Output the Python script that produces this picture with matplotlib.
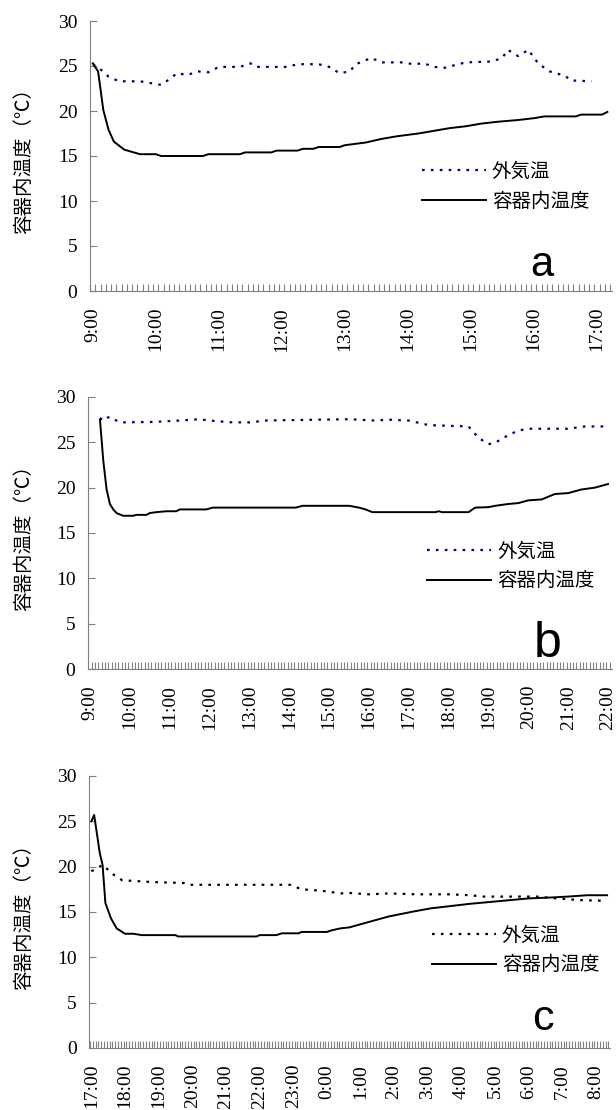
import matplotlib
matplotlib.use('Agg')
import matplotlib.pyplot as plt
import numpy as np

# ---- a: 9:00 - 17:10 ----
a_labels = ["9:00", "10:00", "11:00", "12:00", "13:00", "14:00", "15:00", "16:00", "17:00"]
a_in_t = ["9:00", "9:05", "9:10", "9:15", "9:20", "9:30", "9:45", "10:00", "10:05", "10:45",
          "10:50", "11:20", "11:25", "11:50", "11:55", "12:15", "12:20", "12:30", "12:35", "12:55",
          "13:00", "13:20", "13:35", "13:50", "14:10", "14:25", "14:40", "14:55", "15:10", "15:25",
          "15:45", "16:00", "16:10", "16:40", "16:45", "17:05", "17:10"]
a_in_v = [25.3, 24.4, 20.1, 17.9, 16.6, 15.7, 15.2, 15.2, 15.0, 15.0,
          15.2, 15.2, 15.4, 15.4, 15.6, 15.6, 15.8, 15.8, 16.0, 16.0,
          16.2, 16.5, 16.9, 17.2, 17.5, 17.8, 18.1, 18.3, 18.6, 18.8,
          19.0, 19.2, 19.4, 19.4, 19.6, 19.6, 19.9]
a_out_t = ["9:00", "9:10", "9:15", "9:25", "9:45", "9:55", "10:05", "10:15", "10:20", "10:30",
           "10:40", "10:50", "11:00", "11:20", "11:30", "11:35", "12:05", "12:15", "12:35", "12:45",
           "12:55", "13:05", "13:10", "13:15", "13:25", "13:35", "13:55", "14:05", "14:15", "14:25",
           "14:35", "14:45", "14:55", "15:20", "15:30", "15:35", "15:45", "15:55", "16:00", "16:05",
           "16:15", "16:30", "16:35", "16:55"]
a_out_v = [25.2, 24.4, 23.8, 23.3, 23.3, 23.1, 22.9, 23.7, 24.2, 24.0,
           24.4, 24.3, 24.9, 24.9, 25.3, 24.9, 24.9, 25.2, 25.2, 24.9,
           24.2, 24.4, 25.2, 25.4, 25.9, 25.4, 25.4, 25.2, 25.3, 24.9,
           24.8, 25.1, 25.4, 25.5, 25.9, 26.8, 26.1, 26.8, 25.9, 25.2,
           24.4, 23.9, 23.4, 23.3]

# ---- b: 9:00 - 22:00 ----
b_labels = ["9:00", "10:00", "11:00", "12:00", "13:00", "14:00", "15:00", "16:00",
            "17:00", "18:00", "19:00", "20:00", "21:00", "22:00"]
b_in_t = ["9:15", "9:20", "9:25", "9:30", "9:35", "9:40", "9:50", "10:05", "10:10", "10:25",
          "10:30", "10:40", "10:55", "11:10", "11:15", "11:55", "12:05", "14:10", "14:20", "15:30",
          "15:45", "15:55", "16:05", "17:40", "17:45", "17:50", "18:30", "18:40", "19:00", "19:10",
          "19:30", "19:45", "20:00", "20:20", "20:40", "21:00", "21:20", "21:40", "22:00"]
b_in_v = [27.5, 23.0, 19.8, 18.2, 17.6, 17.2, 16.9, 16.9, 17.0, 17.0,
          17.2, 17.3, 17.4, 17.4, 17.6, 17.6, 17.8, 17.8, 18.0, 18.0,
          17.8, 17.6, 17.3, 17.3, 17.4, 17.3, 17.3, 17.8, 17.85, 18.0,
          18.2, 18.3, 18.6, 18.7, 19.3, 19.4, 19.8, 20.0, 20.4]
b_out_t = ["9:15", "9:20", "9:25", "9:30", "9:45", "10:35", "11:15", "11:45", "12:00", "12:35",
           "13:05", "13:20", "15:30", "16:10", "16:30", "17:00", "17:30", "18:30", "18:45", "19:00",
           "19:10", "19:30", "19:45", "20:00", "21:00", "21:25", "22:00"]
b_out_v = [27.7, 27.4, 27.7, 27.8, 27.2, 27.25, 27.4, 27.55, 27.4, 27.2,
           27.2, 27.4, 27.55, 27.4, 27.5, 27.4, 26.9, 26.75, 25.5, 24.8,
           24.95, 25.8, 26.3, 26.5, 26.5, 26.75, 26.75]

# ---- c: 17:00 - 8:20 (overnight) ----
c_labels = ["17:00", "18:00", "19:00", "20:00", "21:00", "22:00", "23:00", "0:00",
            "1:00", "2:00", "3:00", "4:00", "5:00", "6:00", "7:00", "8:00"]
c_in_t = ["17:00", "17:05", "17:15", "17:20", "17:25", "17:35", "17:45", "18:00", "18:15", "18:30",
          "19:30", "19:35", "21:55", "22:00", "22:30", "22:40", "23:10", "23:15", "0:00", "0:10",
          "0:25", "0:40", "1:15", "1:50", "2:30", "3:05", "3:40", "4:15", "4:50", "5:25",
          "6:00", "6:40", "7:10", "7:45", "8:20"]
c_in_v = [25.0, 25.7, 21.5, 20.2, 16.0, 14.3, 13.2, 12.6, 12.6, 12.45,
          12.45, 12.3, 12.3, 12.45, 12.45, 12.65, 12.65, 12.8, 12.8, 13.0,
          13.2, 13.3, 13.9, 14.5, 15.0, 15.4, 15.65, 15.9, 16.1, 16.3,
          16.5, 16.6, 16.7, 16.85, 16.85]
c_out_t = ["17:00", "17:10", "17:20", "17:40", "17:55", "18:50", "19:45", "19:55", "22:55", "23:15",
           "23:50", "0:25", "0:40", "1:15", "1:50", "2:40", "3:40", "4:15", "4:40", "6:15",
           "6:50", "7:35", "8:10"]
c_out_v = [19.5, 19.8, 20.2, 19.1, 18.5, 18.3, 18.2, 18.0, 18.0, 17.5,
           17.35, 17.05, 17.1, 16.95, 17.05, 16.95, 16.95, 16.85, 16.7, 16.7,
           16.5, 16.3, 16.25]

JP = 'Noto Sans CJK JP'
NUM = 'Liberation Serif'
GRAY = '#808080'


def hours(times, start):
    # "H:MM" -> hours elapsed since start (wraps past midnight)
    out = []
    for t in times:
        hh, mm = t.split(':')
        h = int(hh) + int(mm) / 60
        if h < start:
            h += 24
        out.append(h - start)
    return out


fig = plt.figure(figsize=(6.16, 11.10), dpi=100)
W, H = 616, 1110


def draw_panel(px, start, labels, in_t, in_v, out_t, out_v, out_color, xlim,
               letter, letter_xy, letter_size, legend_xy):
    left, right, top, bottom = px
    rect = [left / W, 1 - bottom / H, (right - left) / W, (bottom - top) / H]
    ax = fig.add_axes(rect)

    ax.plot(hours(out_t, start), out_v, color=out_color, lw=1.6,
            dashes=(1.2, 2.8), label='外気温')
    ax.plot(hours(in_t, start), in_v, color='black', lw=1.4, label='容器内温度')

    ax.set_xlim(*xlim)
    ax.set_ylim(0, 30)
    ax.set_yticks(range(0, 31, 5))
    ax.set_yticklabels([str(v) for v in range(0, 31, 5)], fontfamily=NUM, fontsize=14)
    ax.set_xticks(hours(labels, start))
    ax.set_xticklabels(labels, rotation=90, fontfamily=NUM, fontsize=14)
    ax.set_xticks(np.arange(-1 / 24, xlim[1], 1 / 12), minor=True)

    ax.tick_params(axis='y', direction='in', length=5, color=GRAY, pad=9)
    ax.tick_params(axis='x', which='major', length=0, pad=11.5)
    ax.tick_params(axis='x', which='minor', direction='in', length=5, color=GRAY, width=0.8)

    for s in ['top', 'right']:
        ax.spines[s].set_visible(False)
    for s in ['left', 'bottom']:
        ax.spines[s].set_color(GRAY)

    ax.set_ylabel('容器内温度（℃）', fontfamily=JP, fontsize=14)
    ax.yaxis.set_label_coords((34 - left) / (right - left), 0.5)

    ax.legend(loc='center left', bbox_to_anchor=(legend_xy[0] / W, 1 - legend_xy[1] / H),
              bbox_transform=fig.transFigure, frameon=False,
              prop={'family': JP, 'size': 14}, handlelength=3.3, handletextpad=0.3,
              labelspacing=0.45, borderpad=0, borderaxespad=0)

    ax.text((letter_xy[0] - left) / (right - left), (bottom - letter_xy[1]) / (bottom - top),
            letter, transform=ax.transAxes, ha='center', va='baseline',
            fontfamily='Liberation Sans', fontsize=letter_size)
    return ax


draw_panel((90, 612, 21, 291), 9, a_labels, a_in_t, a_in_v, a_out_t, a_out_v, '#000080',
           (-0.045, 8.24), 'a', (542, 276), 30, (422, 186.5))
draw_panel((88, 612, 397, 669), 9, b_labels, b_in_t, b_in_v, b_out_t, b_out_v, '#000080',
           (-0.05, 13.10), 'b', (548, 657), 36, (427, 566))
draw_panel((89, 610, 776, 1048), 17, c_labels, c_in_t, c_in_v, c_out_t, c_out_v, 'black',
           (-0.07, 15.42), 'c', (543, 1030), 31, (432, 950))

fig.savefig('out.png', dpi=100)
